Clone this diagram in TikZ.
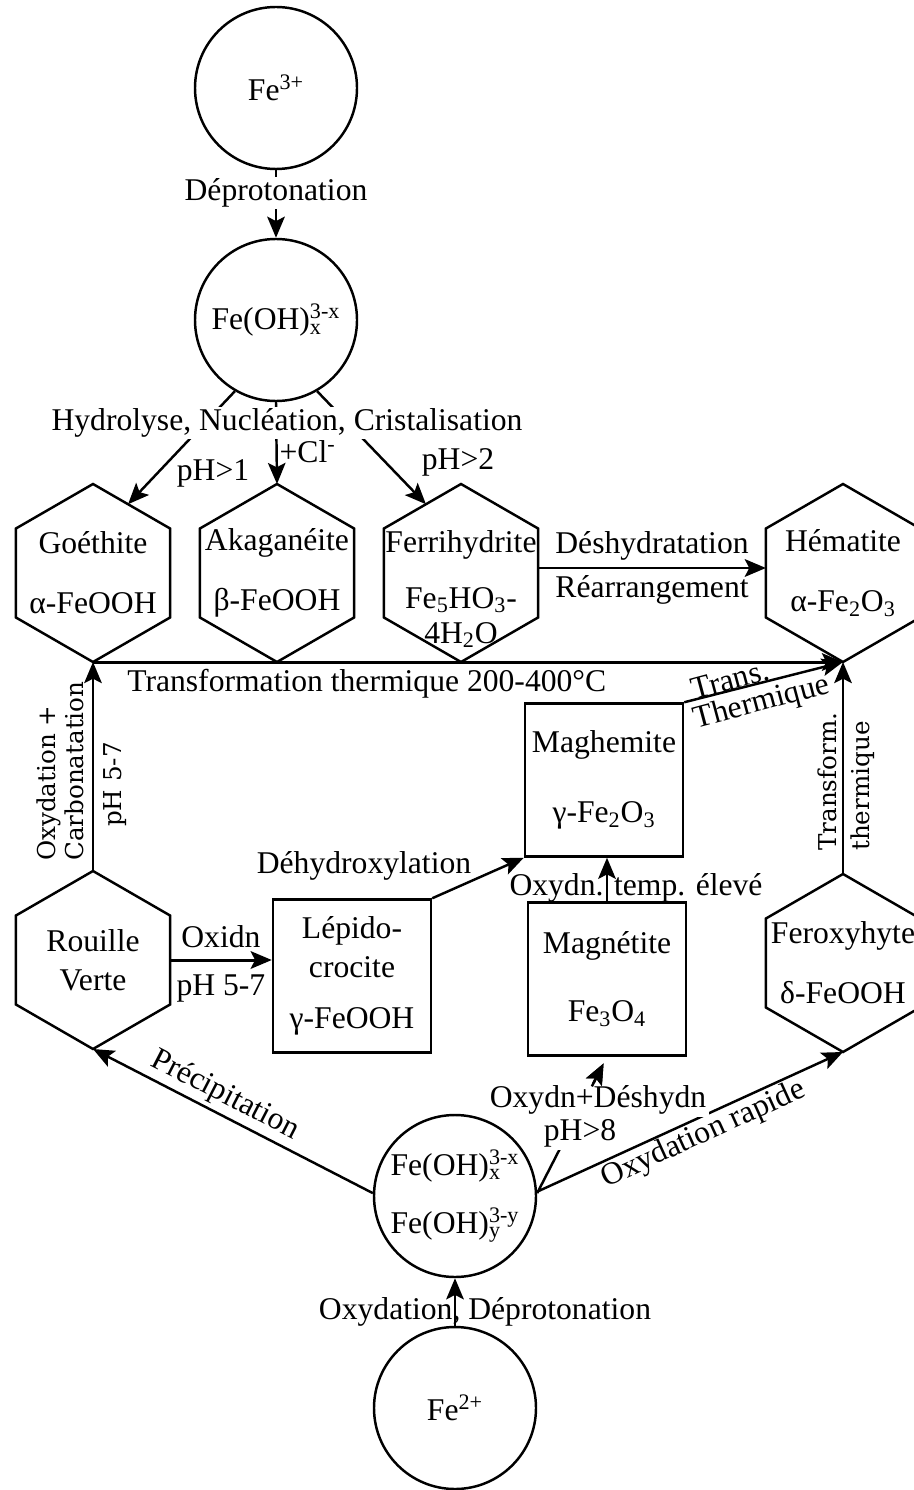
\documentclass[tikz,border=0pt]{standalone}
\usepackage{fontspec}
\setmainfont{Liberation Serif}
\newfontfamily\rotfont{DejaVu Serif}
\usetikzlibrary{arrows.meta,shapes.geometric}
\newcommand{\subsup}[2]{\rlap{\textsubscript{#1}}\textsuperscript{#2}}

\begin{document}
\begin{tikzpicture}[->,>={Stealth[length=12pt,width=10pt,inset=2.5pt]},line width=1.4pt,
  font=\fontsize{18}{22}\selectfont,node distance=3.68cm,
  main node/.style={circle,draw,minimum size=3.24cm,inner sep=0pt,align=center},
  hex node/.style={regular polygon,regular polygon sides=6,shape border rotate=30,draw,
    minimum size=3.56cm,inner sep=0pt,outer sep=0pt},
  rec node/.style={rectangle,draw,minimum width=3.16cm,minimum height=3.06cm,inner sep=0pt,align=center},
  txt node/.style={align=center,inner sep=2pt},
  rot node/.style={font=\rotfont\fontsize{14}{16}\selectfont,rotate=90,inner sep=0pt,align=left}]

  \useasboundingbox (0,0) rectangle (18.28,-29.8);

  \node[main node] (1) at (5.52,-1.76) {Fe\textsuperscript{3+}};
  \node[main node] (2) [below of=1,yshift=-0.96cm] {Fe(OH)\subsup{x}{3-x}};
  \node[hex node,label={[txt node]center:Goéthite\\[12pt]α-FeOOH}] (3) [below of=2,xshift=-3.66cm,yshift=-1.38cm] {};
  \node[hex node,label={[txt node]center:Akaganéite\\[12pt]β-FeOOH}] (4) [right of=3] {};
  \node[hex node,label={[txt node,yshift=-0.32cm]center:Ferrihydrite\\[10pt]Fe\textsubscript{5}HO\textsubscript{3}-\\[-2pt]4H\textsubscript{2}O}] (5) [right of=4] {};
  \node[hex node,label={[txt node]center:Hématite\\[12pt]α-Fe\textsubscript{2}O\textsubscript{3}}] (6) [right of=5,xshift=3.96cm] {};
  \node[hex node,label={[txt node]center:Rouille\\Verte}] (7) [below of=3,yshift=-4.06cm] {};
  \node[hex node,label={[txt node]center:Feroxyhyte\\[12pt]δ-FeOOH}] (8) [below of=6,yshift=-4.12cm] {};
  \node[rec node] (9) [right of=7,xshift=1.50cm,yshift=-0.32cm] {Lépido-\\crocite\\[7pt]γ-FeOOH};
  \node[rec node] (10) [right of=9,xshift=1.36cm,yshift=3.92cm] {Maghemite\\[18pt]γ-Fe\textsubscript{2}O\textsubscript{3}};
  \node[rec node] (11) [below of=10,xshift=0.06cm,yshift=-0.30cm] {Magnétite\\[17pt]Fe\textsubscript{3}O\textsubscript{4}};
  \node[main node] (12) [below of=9,xshift=2.06cm,yshift=-0.72cm] {Fe(OH)\subsup{x}{3-x}\\[11pt]Fe(OH)\subsup{y}{3-y}};
  \node[main node] (13) [below of=12,yshift=-0.56cm] {Fe\textsuperscript{2+}};

  % Fe3+ side
  \path (1) edge node[pos=0.34,fill=white,inner sep=1pt] {Déprotonation} (2);
  \draw (2.240) -- (3.63);
  \draw (2.south) -- node[right,pos=0.6,inner sep=1pt] {+Cl\textsuperscript{-}} (4.north);
  \draw (2.300) -- (5.117);
  \node[txt node,fill=white,inner sep=1pt] (14) at (5.74,-8.46) {Hydrolyse, Nucléation, Cristalisation};
  \node[txt node] (15) at (4.26,-9.46) {pH>1};
  \node[txt node] (16) at (9.16,-9.24) {pH>2};
  \draw[line width=1.7pt] ([yshift=1mm]5.east) -- node[above]{Déshydratation} node[below]{Réarrangement} ([yshift=1mm]6.west);
  \draw[line width=1.7pt] (3.south) -- node[below,pos=0.365]{Transformation thermique 200-400°C} (6.south);

  % vertical transformations
  \draw (7.north) -- (3.south);
  \node[rot node,anchor=south west] (17) at (1.70,-17.24) {Oxydation +\\Carbonatation};
  \node[rot node,anchor=north west] (18) at (2.04,-16.56) {pH 5-7};
  \draw (8.north) -- (6.south);
  \node[rot node,anchor=south west] (19) at (16.76,-17.04) {Transform.};
  \node[rot node,anchor=north west] (20) at (17.00,-17.04) {thermique};
  \draw (10.north east) -- (6.south);
  \node[txt node,rotate=15] (21) at (14.60,-13.60) {Trans.};
  \node[txt node,rotate=15] (22) at (15.24,-14.06) {Thermique};

  % middle
  \draw[line width=1.7pt] (7.east) -- node[above=3pt]{Oxidn} node[below=4pt]{pH 5-7} (7.east -| 9.west);
  \draw (9.north east) -- (10.south west);
  \node[txt node] (23) at (7.28,-17.32) {Déhydroxylation};
  \draw (11.north) -- (11.north |- 10.south);
  \node[txt node] (24) at (12.72,-17.76) {Oxydn. temp. élevé};

  % Fe2+ side
  \draw[<-] (7.south) -- node[sloped,above,pos=0.44,inner sep=2pt]{Précipitation} (12.178);
  \draw (12.3) -- node[sloped,below,pos=0.52,inner sep=1pt]{Oxydation rapide} (8.south);
  \draw[shorten >=1.5mm] (12.2) -- (11.south);
  \node[txt node,fill=white,inner sep=1.5pt] (25) at (11.96,-22.00) {Oxydn+Déshydn};
  \node[txt node,fill=white,inner sep=1.5pt] (26) at (11.60,-22.66) {pH>8};
  \draw[shorten >=1.5mm,shorten <=2.4cm] (12.2) -- (11.south);
  \draw (13) -- (12);
  \node[txt node] (27) at (9.70,-26.24) {Oxydation, Déprotonation};
\end{tikzpicture}
\end{document}
